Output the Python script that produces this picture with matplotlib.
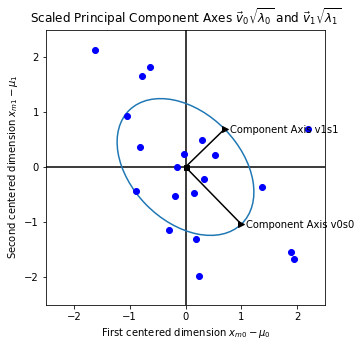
import numpy as np
import matplotlib
matplotlib.use("Agg")
import matplotlib.pyplot as plt
from matplotlib.patches import Ellipse

# centered data points
x0 = [-1.62, -0.63, -0.78, -1.05, -0.82, -0.03, -0.16, 0.30, 0.53, 0.33,
      0.15, -0.18, -0.89, 1.37, 2.20, -0.29, 0.18, 0.24, 1.89, 1.95]
x1 = [2.13, 1.81, 1.65, 0.93, 0.36, 0.24, 0.00, 0.49, 0.21, -0.22,
      -0.48, -0.52, -0.44, -0.36, 0.69, -1.15, -1.30, -1.98, -1.54, -1.67]

# scaled principal component axes (tips)
v0s0 = [1.00, -1.04]
v1s1 = [0.70, 0.69]
labels = ["Component Axis v0s0", "Component Axis v1s1"]

fig = plt.figure(figsize=(5, 340 / 72), dpi=72)
ax = fig.add_axes([46 / 360, 1 - 304.5 / 340, 279 / 360, 275 / 340])

ax.axhline(0, color="k", lw=1.5, zorder=1)
ax.axvline(0, color="k", lw=1.5, zorder=1)

ax.plot(x0, x1, "bo", zorder=3)

len0 = np.hypot(*v0s0)
len1 = np.hypot(*v1s1)
ang = np.degrees(np.arctan2(v0s0[1], v0s0[0]))
ell = Ellipse((0, 0), 2 * len0, 2 * len1, angle=ang, fill=False,
              edgecolor="#1f77b4", lw=1.5, zorder=2)
ax.add_patch(ell)

for tip, lab in zip([v0s0, v1s1], labels):
    ax.plot([0, tip[0]], [0, tip[1]], "k-", lw=1.5, zorder=4)
    ax.plot([tip[0]], [tip[1]], "k>", ms=6, zorder=4)
    ax.annotate(lab, xy=tip, xytext=(5, -1), textcoords="offset points",
                ha="left", va="center", fontsize=10, annotation_clip=False,
                zorder=5)
ax.plot([0], [0], "ks", ms=5, zorder=5)

ax.set_xlim(-2.5, 2.5)
ax.set_ylim(-2.5, 2.5)
ax.set_xticks([-2, -1, 0, 1, 2])
ax.set_yticks([-2, -1, 0, 1, 2])
ax.set_xlabel(r"First centered dimension $x_{m0} - \mu_0$")
ax.set_ylabel(r"Second centered dimension $x_{m1} - \mu_1$")
ax.set_title(r"Scaled Principal Component Axes $\vec{v}_0\sqrt{\lambda_0}$ and $\vec{v}_1\sqrt{\lambda_1}$")

fig.savefig("out.png", dpi=72)
